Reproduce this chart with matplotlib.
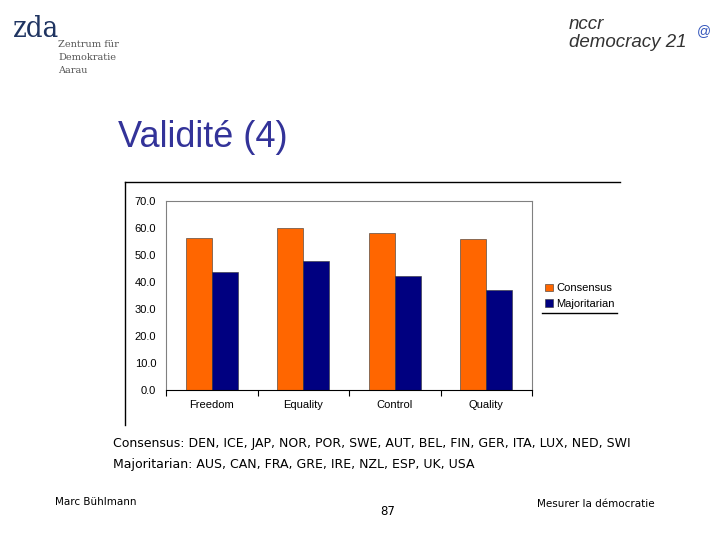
import matplotlib
matplotlib.use("Agg")
import matplotlib.pyplot as plt
import numpy as np
from matplotlib.lines import Line2D

# data
categories = ["Freedom", "Equality", "Control", "Quality"]
consensus = [56.2, 59.9, 58.2, 55.9]
majoritarian = [43.7, 47.8, 42.3, 37.1]
yticks = [0, 10, 20, 30, 40, 50, 60, 70]
consensus_countries = "DEN, ICE, JAP, NOR, POR, SWE, AUT, BEL, FIN, GER, ITA, LUX, NED, SWI"
majoritarian_countries = "AUS, CAN, FRA, GRE, IRE, NZL, ESP, UK, USA"

W, H = 720, 540
fig = plt.figure(figsize=(7.2, 5.4), dpi=100)
fig.patch.set_facecolor("white")


def fx(px):
    return px / W


def fy(py):
    return 1 - py / H


# logos (as text)
fig.text(fx(13), fy(37), "zda", family="DejaVu Serif", fontsize=21, color="#1f3461",
         stretch="condensed")
for i, line in enumerate(["Zentrum für", "Demokratie", "Aarau"]):
    fig.text(fx(58), fy(47 + i * 13), line, family="DejaVu Serif", fontsize=7,
             color="#555555")
fig.text(fx(569), fy(29), "nccr", fontsize=13.5, style="italic", color="#333333",
         family="Liberation Sans")
fig.text(fx(569), fy(47), "democracy 21", fontsize=13.5, style="italic", color="#333333",
         family="Liberation Sans")
fig.text(fx(697), fy(35), "@", fontsize=10, color="#3355bb", family="Liberation Sans")

# title
fig.text(fx(118), fy(147), "Validité (4)", fontsize=26, color="#333399",
         family="Liberation Sans")

# outer chart frame (left and top lines)
fig.add_artist(Line2D([fx(125), fx(125)], [fy(182), fy(425)], color="black", lw=1))
fig.add_artist(Line2D([fx(125), fx(620)], [fy(182), fy(182)], color="black", lw=1))

# plot area
ax = fig.add_axes([fx(166), fy(390), (532 - 166) / W, (390 - 201) / H])
x = np.arange(len(categories))
bw = 0.286
ax.bar(x - bw / 2, consensus, bw, color="#ff6600", edgecolor="#333333", lw=0.4,
       label="Consensus")
ax.bar(x + bw / 2, majoritarian, bw, color="#000080", edgecolor="#333333", lw=0.4,
       label="Majoritarian")
ax.set_xlim(-0.5, len(categories) - 0.5)
ax.set_ylim(0, 70)
ax.set_yticks(yticks)
ax.set_yticklabels(["%.1f" % v for v in yticks], fontsize=8, family="Liberation Sans")
ax.set_xticks(x)
ax.set_xticklabels(categories, fontsize=8, family="Liberation Sans")
ax.set_xticks(np.arange(len(categories) + 1) - 0.5, minor=True)
ax.tick_params(axis="x", which="major", length=0, pad=7)
ax.tick_params(axis="x", which="minor", length=4, direction="out", width=0.8)
ax.tick_params(axis="y", length=0, pad=7)
for s in ["top", "right", "left"]:
    ax.spines[s].set_color("#808080")
    ax.spines[s].set_linewidth(0.8)
ax.spines["bottom"].set_color("black")
ax.spines["bottom"].set_linewidth(0.8)

leg = fig.legend(loc="upper left", bbox_to_anchor=(fx(541), fy(279)), frameon=False,
                 handlelength=0.7, handleheight=0.7, handletextpad=0.3,
                 labelspacing=0.5, borderaxespad=0,
                 prop={"family": "Liberation Sans", "size": 8})
fig.add_artist(Line2D([fx(542), fx(617)], [fy(313), fy(313)], color="black", lw=1))

# country lists
fig.text(fx(113), fy(447), "Consensus: " + consensus_countries, fontsize=9,
         family="DejaVu Sans", color="black")
fig.text(fx(113), fy(468), "Majoritarian: " + majoritarian_countries, fontsize=9,
         family="DejaVu Sans", color="black")

# footer
fig.text(fx(55), fy(505), "Marc Bühlmann", fontsize=7.5, family="DejaVu Sans")
fig.text(fx(380), fy(515), "87", fontsize=8.5, family="DejaVu Sans")
fig.text(fx(537), fy(507), "Mesurer la démocratie", fontsize=7.5, family="DejaVu Sans")

fig.savefig("out.png", dpi=100)
